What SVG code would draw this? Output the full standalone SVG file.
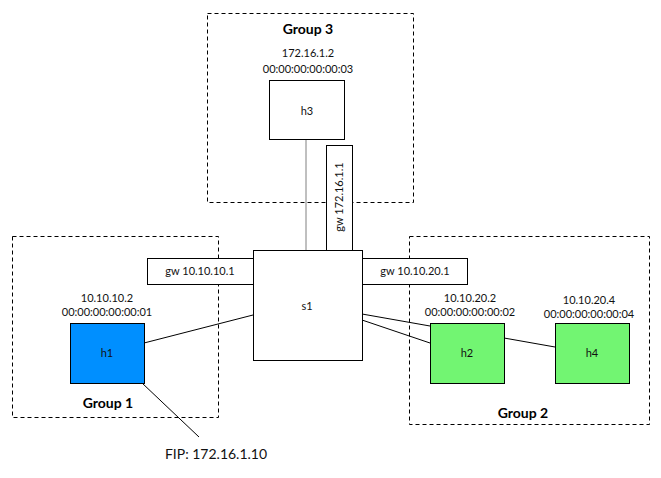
<svg xmlns="http://www.w3.org/2000/svg" width="661" height="478" viewBox="0 0 661 478">
<style>
.grp{fill:none;stroke:#000;stroke-width:1;stroke-dasharray:4 3}
.box{fill:#fff;stroke:#000;stroke-width:1}
.t{font-family:Lato,"Open Sans","Liberation Sans",sans-serif;font-size:11px;fill:#111;text-anchor:middle}
.gl{font-family:Lato,"Open Sans","Liberation Sans",sans-serif;font-size:14px;font-weight:bold;fill:#000;text-anchor:middle}
.big{font-family:Lato,"Open Sans","Liberation Sans",sans-serif;font-size:14px;fill:#111;text-anchor:middle}
.ln{stroke:#000;stroke-width:1;fill:none}
</style>
<rect width="661" height="478" fill="#fff"/>
<g id="group3">
<rect class="grp" x="207.5" y="13.5" width="206" height="189"/>
<text class="gl" x="308" y="34">Group 3</text>
</g>
<g id="group1">
<rect class="grp" x="12.5" y="236.5" width="206" height="181"/>
<text class="gl" x="108" y="408">Group 1</text>
</g>
<g id="group2">
<rect class="grp" x="409.5" y="236.5" width="240" height="188"/>
<text class="gl" x="523" y="418">Group 2</text>
</g>
<g id="connectors">
<line x1="306" y1="139" x2="306" y2="250" stroke="#808080" stroke-width="1"/>
<line class="ln" x1="144" y1="343" x2="253" y2="315"/>
<line class="ln" x1="362" y1="314" x2="430" y2="326"/>
<line class="ln" x1="362" y1="320" x2="430" y2="343"/>
<line class="ln" x1="504" y1="338" x2="555" y2="347"/>
<line class="ln" x1="142" y1="383" x2="199" y2="437"/>
</g>
<g id="gw3">
<rect class="box" x="326.5" y="145.5" width="26" height="105"/>
<text class="t" transform="translate(343,197) rotate(-90)" x="0" y="0">gw 172.16.1.1</text>
</g>
<g id="gw1">
<rect class="box" x="147.5" y="258.5" width="106" height="26"/>
<text class="t" x="200" y="275">gw 10.10.10.1</text>
</g>
<g id="gw2">
<rect class="box" x="361.5" y="258.5" width="106" height="26"/>
<text class="t" x="415" y="275">gw 10.10.20.1</text>
</g>
<g id="s1">
<rect class="box" x="253.5" y="250.5" width="109" height="110"/>
<text class="t" x="307" y="310">s1</text>
</g>
<g id="h3">
<text class="t" x="308" y="57">172.16.1.2</text>
<text class="t" x="308" y="73">00:00:00:00:00:03</text>
<rect class="box" x="269.5" y="80.5" width="75" height="59"/>
<text class="t" x="307" y="115">h3</text>
</g>
<g id="h1">
<text class="t" x="107" y="302">10.10.10.2</text>
<text class="t" x="107" y="316">00:00:00:00:00:01</text>
<rect x="70.5" y="323.5" width="74" height="60" fill="#008fff" stroke="#000"/>
<text class="t" x="107" y="357">h1</text>
</g>
<g id="h2">
<text class="t" x="470" y="302">10.10.20.2</text>
<text class="t" x="470" y="316">00:00:00:00:00:02</text>
<rect x="430.5" y="323.5" width="74" height="60" fill="#72f572" stroke="#000"/>
<text class="t" x="467" y="357">h2</text>
</g>
<g id="h4">
<text class="t" x="589" y="304">10.10.20.4</text>
<text class="t" x="589" y="318">00:00:00:00:00:04</text>
<rect x="555.5" y="323.5" width="74" height="60" fill="#72f572" stroke="#000"/>
<text class="t" x="592" y="357">h4</text>
</g>
<g id="fip">
<text class="big" x="216" y="459">FIP: 172.16.1.10</text>
</g>
</svg>
